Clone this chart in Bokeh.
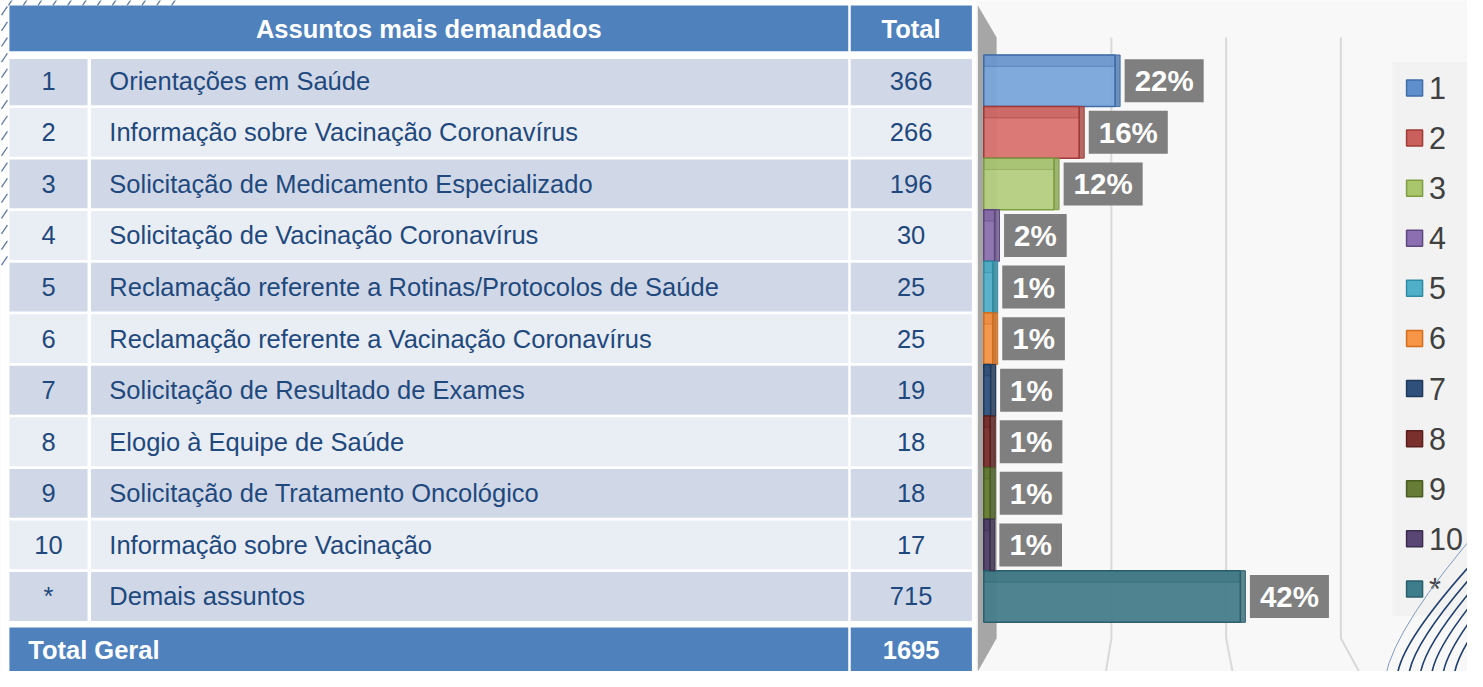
from bokeh.plotting import figure
from bokeh.models import Range1d, ColumnDataSource
from bokeh.core.properties import value
from bokeh.embed import file_html
from bokeh.resources import INLINE

# ---------------- data ----------------
header_subject = "Assuntos mais demandados"
header_total = "Total"
ranks = ["1", "2", "3", "4", "5", "6", "7", "8", "9", "10", "*"]
subjects = [
    "Orientações em Saúde",
    "Informação sobre Vacinação Coronavírus",
    "Solicitação de Medicamento Especializado",
    "Solicitação de Vacinação Coronavírus",
    "Reclamação referente a Rotinas/Protocolos de Saúde",
    "Reclamação referente a Vacinação Coronavírus",
    "Solicitação de Resultado de Exames",
    "Elogio à Equipe de Saúde",
    "Solicitação de Tratamento Oncológico",
    "Informação sobre Vacinação",
    "Demais assuntos",
]
totals = [366, 266, 196, 30, 25, 25, 19, 18, 18, 17, 715]
total_label = "Total Geral"
total_geral = 1695
grid_ticks = [0.2, 0.4, 0.6]

# ---------------- styles ----------------
bar_fill = ["#79A4DA", "#D8726F", "#B3CE7E", "#8F74B2", "#55B2CB", "#F7974A",
            "#2F5380", "#7B302D", "#657D33", "#51406A", "#457C89"]
bar_edge = ["#3F6DA8", "#A03B38", "#7E9D43", "#5F4880", "#2F8CA5", "#D46E1C",
            "#1F3A5C", "#5A1F1D", "#4A5E22", "#3A2D4E", "#2A5F6C"]
leg_fill = ["#5F8FCC", "#C9605C", "#A9C66C", "#8B6FB0", "#4FAFC8", "#F79646",
            "#2F507A", "#7A302D", "#667C37", "#5A4675", "#3E7E8C"]
TXT = "#1F497D"
HEAD = "#4F81BD"
FONT = value("Liberation Sans")

# ---------------- layout helpers ----------------
W, H = 1467, 671
RX, RY = 1483, 687          # reference canvas (px) mapped onto the figure
Y0, PITCH = 29.4, 52.8      # row-0 centre (px) and row pitch (px)


def row_of(px):
    return (px - Y0) / PITCH


PCT_ORIGIN, PCT_SCALE = 994, 615

p = figure(width=W, height=H, output_backend="svg", toolbar_location=None,
           x_range=Range1d(0, RX), y_range=Range1d(row_of(RY), row_of(0)),
           x_axis_location=None, y_axis_location=None, min_border=0)
p.extra_x_ranges = {"pct": Range1d(-PCT_ORIGIN / PCT_SCALE, (RX - PCT_ORIGIN) / PCT_SCALE)}
p.grid.visible = False
p.outline_line_color = None
p.background_fill_color = "#F8F8F8"
p.border_fill_color = "#F8F8F8"

n = len(ranks)
ks = list(range(1, n + 1))
HALF = 25 / PITCH
fracs = [t / total_geral for t in totals]
pcts = [f"{round(f * 100)}%" for f in fracs]

# table background
p.quad(left=[0], right=[986], top=[row_of(-5)], bottom=[row_of(700)],
       fill_color="white", line_color=None)

# decorative hatch strokes on the top-left edge
hx, hy = [], []
for i in range(17):
    y = 6 + 16 * i
    hx.append([1, 7]); hy.append([row_of(y + 9), row_of(y)])
for i in range(12):
    x = 8 + 15 * i
    hx.append([x, x + 4]); hy.append([row_of(5), row_of(-1)])
p.multi_line(xs=hx, ys=hy, line_color="#3A5A85", line_width=1.3, line_alpha=0.8)

# data rows
tops = [k - HALF for k in ks]
bots = [k + HALF for k in ks]
tops[0] = row_of(60)
fills = ["#D0D8E8" if k % 2 == 1 else "#E9EDF4" for k in ks]
rows = ColumnDataSource(dict(top=tops, bottom=bots, fill=fills, k=ks,
                             rank=ranks, subj=subjects, tot=[str(t) for t in totals]))
for (l, r) in [(9, 88), (91.5, 857), (859.5, 982)]:
    p.quad(left=l, right=r, top="top", bottom="bottom", fill_color="fill",
           line_color=None, source=rows)

# header and total rows
hdr = ColumnDataSource(dict(left=[9, 859.5, 9, 859.5], right=[857, 982, 857, 982],
                            top=[row_of(5), row_of(5), row_of(642), row_of(642)],
                            bottom=[row_of(52), row_of(52), row_of(695), row_of(695)]))
p.quad(left="left", right="right", top="top", bottom="bottom", fill_color=HEAD,
       line_color=None, source=hdr)

FS = "25.5px"
common = dict(text_font=FONT, text_baseline="middle")
p.text(x=48.5, y="k", text="rank", source=rows, text_align="center",
       text_font_size=FS, text_color=TXT, **common)
p.text(x=110, y="k", text="subj", source=rows, text_align="left",
       text_font_size=FS, text_color=TXT, **common)
p.text(x=920.5, y="k", text="tot", source=rows, text_align="center",
       text_font_size=FS, text_color=TXT, **common)

p.text(x=[433, 920.5], y=[row_of(29)] * 2, text=[header_subject, header_total],
       text_align="center", text_font_size=FS, text_font_style="bold",
       text_color="white", **common)
p.text(x=[28], y=[row_of(665)], text=[total_label], text_align="left",
       text_font_size=FS, text_font_style="bold", text_color="white", **common)
p.text(x=[920.5], y=[row_of(665)], text=[str(total_geral)], text_align="center",
       text_font_size=FS, text_font_style="bold", text_color="white", **common)

# ---------------- 3D chart ----------------
# side wall
p.patch(x=[988, 1007, 1007, 988], y=[row_of(5), row_of(38), row_of(653), row_of(687)],
        fill_color="#A6A6A6", line_color=None)

# vertical gridlines on the back wall and their floor continuation
gx, gy = [], []
for v in grid_ticks:
    bx = 1007 + 580 * v
    fx = PCT_ORIGIN + PCT_SCALE * v + (v - 0.2) * 30
    gx.append([bx, bx, fx])
    gy.append([row_of(38), row_of(653), row_of(690)])
p.multi_line(xs=gx, ys=gy, line_color="#D9D9D9", line_width=2)

bars = ColumnDataSource(dict(k=ks, frac=fracs, fill=bar_fill, edge=bar_edge, pct=pcts,
                             top_k=[k - 0.5 + 0.11 for k in ks],
                             side=[f + 5 / PCT_SCALE for f in fracs]))
p.hbar(y="k", left=0, right="frac", height=1.0, fill_color="fill", line_color="edge",
       line_width=1.5, fill_alpha=0.95, source=bars, x_range_name="pct")
p.hbar(y="top_k", left=0, right="frac", height=0.22, fill_color="edge", fill_alpha=0.22,
       line_color="edge", line_alpha=0.5, source=bars, x_range_name="pct")
p.hbar(y="k", left="frac", right="side", height=1.0, fill_color="edge", fill_alpha=0.75,
       line_color="edge", source=bars, x_range_name="pct")

p.text(x="frac", y="k", text="pct", source=bars, x_range_name="pct", x_offset=9.5,
       text_align="left", text_font_size="29.5px", text_font_style="bold",
       text_color="white", background_fill_color="#7F7F7F", padding=(10, 5), **common)

# legend (drawn manually to match spacing)
LEG_TOP, LEG_PITCH = 89.5, 51.3
leg_y = [row_of(LEG_TOP + LEG_PITCH * i) for i in range(n)]
p.quad(left=[1407], right=[1490], top=[row_of(63)], bottom=[row_of(630)],
       fill_color="#F2F2F2", line_color=None)
leg = ColumnDataSource(dict(y=leg_y, fill=leg_fill, edge=bar_edge, lab=ranks))
p.rect(x=1429.5, y="y", width=16, height=16, width_units="screen", height_units="screen",
       fill_color="fill", line_color="edge", line_width=1.5, source=leg)
p.text(x=1444, y="y", text="lab", source=leg, text_align="left", text_font_size="30.5px",
       text_color="#404040", **common)

# decorative swoosh lines, bottom right
sx = [1412 + 11.5 * i for i in range(6)]
p.quadratic(x0=sx, y0=[row_of(692)] * 6, cx=[x + 3 for x in sx], cy=[row_of(655)] * 6,
            x1=[x + 90 for x in sx], y1=[row_of(560)] * 6,
            line_color="#1F3F6E", line_width=1.6)
p.quadratic(x0=[1400], y0=[row_of(692)], cx=[1410], cy=[row_of(640)],
            x1=[1500], y1=[row_of(535)], line_color="#7F9CC0", line_width=1.0)

open("out.html", "w").write(file_html(p, INLINE))
